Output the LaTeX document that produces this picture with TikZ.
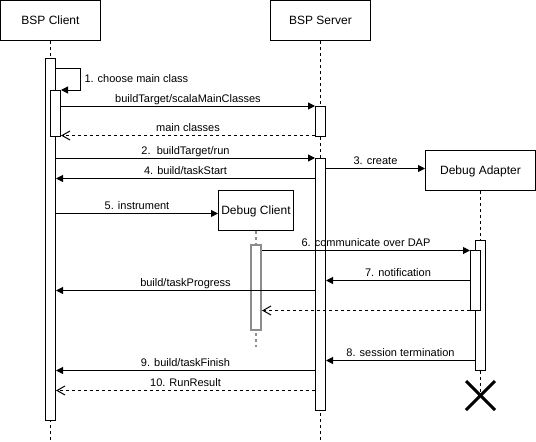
\documentclass[tikz,border=0pt]{standalone}
\usepackage{fontspec}
\setmainfont{Liberation Sans}
\usetikzlibrary{arrows.meta}
\definecolor{grayline}{HTML}{8C8C8C}
\begin{document}
\begin{tikzpicture}[x=1pt,y=-1pt,line width=1pt,
  participant/.style={draw, fill=white, inner sep=0pt, minimum height=40pt, text height=11pt, text depth=2.5pt, font=\fontsize{12}{14}\selectfont},
  actbox/.style={draw, fill=white, inner sep=0pt, minimum width=10pt},
  life/.style={dash pattern=on 3pt off 3pt},
  msg/.style={-{Triangle[length=7pt,width=7pt]}},
  ret/.style={dash pattern=on 3pt off 3pt, -{Straight Barb[length=8pt,width=9pt]}},
  lbl/.style={font=\fontsize{11}{13}\selectfont, inner sep=0pt, anchor=base, yshift=4pt}
]
\fill[white] (0,0) rectangle (536,442);
\useasboundingbox (0,0) rectangle (536,442);

% participants
\node[participant, minimum width=100pt] (client) at (50.5,20.5) {BSP Client};
\node[participant, minimum width=100pt] (server) at (320.5,20.5) {BSP Server};
\node[participant, minimum width=110pt] (da) at (480.5,170.5) {Debug Adapter};
\node[participant, minimum width=75pt] (dc) at (256,210.5) {Debug Client};

% lifeline end points
\coordinate (clientEnd) at (50.5,442);
\coordinate (serverEnd) at (320.5,442);
\coordinate (xc) at (480.5,395.5);
\coordinate (dcEnd) at (256,347);

% lifelines
\draw[life] (client.south -| clientEnd) -- (clientEnd);
\draw[life] (server.south -| serverEnd) -- (serverEnd);
\draw[life] (da.south -| xc) -- (xc |- 0,240);
\draw[life, grayline, line width=2pt] (dc.south -| dcEnd) -- (dcEnd);

% activations
\node[actbox, minimum height=362pt] (cAct) at (50.5,239.5) {};
\node[actbox, minimum height=46pt] (cAct2) at (55.5,113.5) {};
\node[actbox, minimum height=30pt] (sAct1) at (320.5,121.5) {};
\node[actbox, minimum height=252pt] (sAct2) at (320.5,284.5) {};
\node[actbox, draw=grayline, line width=2pt, minimum height=85pt] (dcAct) at (256,287.5) {};
\node[actbox, minimum height=130pt] (daAct) at (480.5,305.5) {};
\node[actbox, minimum height=60pt] (daAct2) at (475.5,280.5) {};

% lifeline end under the adapter and destruction mark
\draw[life] (daAct.south) -- (xc);
\draw[line width=3pt] ([shift={(-14.5,-14.5)}]xc) -- ([shift={(14.5,14.5)}]xc);
\draw[line width=3pt] ([shift={(14.5,-14.5)}]xc) -- ([shift={(-14.5,14.5)}]xc);

% message levels
\coordinate (y1) at (80.5,68.5);
\coordinate (ymc) at (0,135.5);
\coordinate (y3) at (0,168.5);
\coordinate (y4) at (0,178.5);
\coordinate (y5) at (0,213.5);
\coordinate (y6) at (0,250.5);
\coordinate (y7) at (0,280.5);
\coordinate (yp) at (0,290.5);
\coordinate (yr) at (0,310.5);
\coordinate (y8) at (0,360.5);
\coordinate (y9) at (0,370.5);
\coordinate (y10) at (0,390.5);

% 1. self message
\draw[msg] (cAct.east |- y1) -- (y1) |- (cAct2.north east);
\node[font=\fontsize{11}{13}\selectfont, inner sep=0pt, anchor=base west] (l1) at (84,82) {1. choose main class};

\draw[msg] (cAct2.east |- sAct1.north) -- (sAct1.north west)
  node[lbl, midway] (lsmc) {buildTarget/scalaMainClasses};
\draw[ret] (sAct1.west |- ymc) -- (cAct2.east |- ymc)
  node[lbl, midway] (lmc) {main classes};
\draw[msg] (cAct.east |- sAct2.north) -- (sAct2.north west)
  node[lbl, midway] (l2) {2.\ \ buildTarget/run};
\draw[msg] (sAct2.east |- y3) -- (da.west |- y3)
  node[lbl, midway] (l3) {3. create};
\draw[msg] (sAct2.west |- y4) -- (cAct.east |- y4)
  node[lbl, midway] (l4) {4. build/taskStart};
\draw[msg] (cAct.east |- y5) -- (dc.west |- y5)
  node[lbl, midway] (l5) {5. instrument};
\draw[msg] (dcAct.east |- y6) -- (daAct2.west |- y6)
  node[lbl, midway] (l6) {6. communicate over DAP};
\draw[msg] (daAct2.west |- y7) -- (sAct2.east |- y7)
  node[lbl, midway] (l7) {7. notification};
\draw[msg] (sAct2.west |- yp) -- (cAct.east |- yp)
  node[lbl, midway] (lp) {build/taskProgress};
\draw[ret] (daAct2.west |- yr) -- (dcAct.east |- yr);
\draw[msg] (daAct.west |- y8) -- (sAct2.east |- y8)
  node[lbl, midway] (l8) {8. session termination};
\draw[msg] (sAct2.west |- y9) -- (cAct.east |- y9)
  node[lbl, midway] (l9) {9. build/taskFinish};
\draw[ret] (sAct2.west |- y10) -- (cAct.east |- y10)
  node[lbl, midway] (l10) {10. RunResult};
\end{tikzpicture}
\end{document}
